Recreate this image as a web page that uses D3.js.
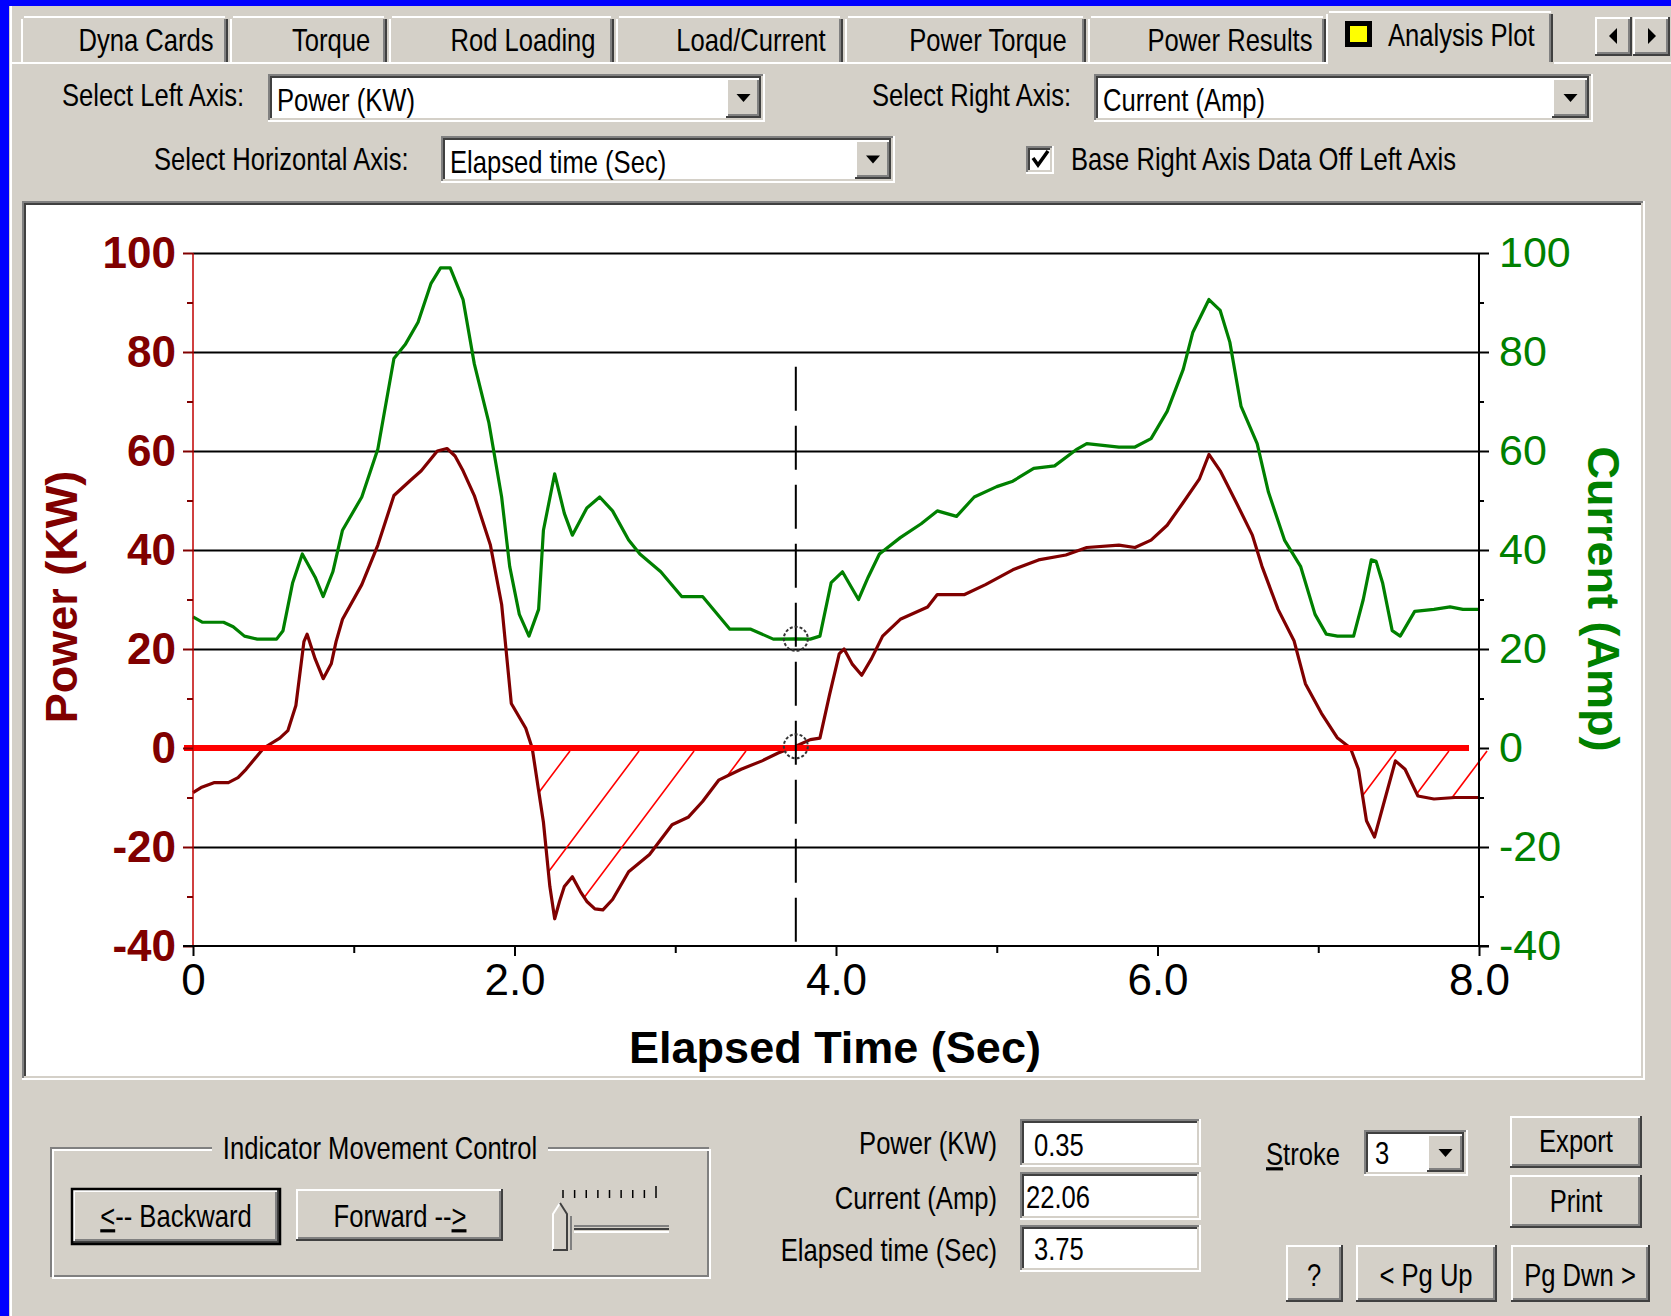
<!DOCTYPE html>
<html>
<head>
<meta charset="utf-8">
<title>Analysis Plot</title>
<script src="https://cdn.jsdelivr.net/npm/d3@7"></script>
<style>
  html, body { margin: 0; padding: 0; background: #0000ff; }
  svg { display: block; }
</style>
</head>
<body>
<svg id="screen" width="1671" height="1316"></svg>
<script>
// ---------------- data ----------------
const powerTime = [0, 0.05, 0.13, 0.22, 0.28, 0.33, 0.44, 0.54, 0.59, 0.64, 0.69, 0.71, 0.76, 0.81, 0.86, 0.89, 0.93,
  1.05, 1.15, 1.25, 1.35, 1.42, 1.52, 1.58, 1.63, 1.68, 1.75, 1.85, 1.92, 1.98, 2.07, 2.11, 2.15, 2.18, 2.22, 2.25,
  2.28, 2.31, 2.36, 2.41, 2.45, 2.5, 2.55, 2.61, 2.71, 2.84, 2.98, 3.08, 3.17, 3.27, 3.41, 3.54, 3.64, 3.75, 3.84,
  3.9, 3.96, 4.02, 4.05, 4.1, 4.16, 4.22, 4.29, 4.4, 4.57, 4.63, 4.8, 4.93, 5.1, 5.26, 5.43, 5.56, 5.76, 5.86, 5.96,
  6.06, 6.16, 6.26, 6.32, 6.39, 6.49, 6.59, 6.65, 6.75, 6.85, 6.92, 7.02, 7.12, 7.2, 7.25, 7.3, 7.35, 7.42, 7.48,
  7.54, 7.62, 7.72, 7.85, 8.0];
const powerKW = [-9, -8, -7, -7, -6, -4.3, 0, 2, 3.5, 8.6, 21.5, 23, 18, 14, 17, 21.5, 26,
  33, 41, 51, 54, 56, 60, 60.5, 59, 56, 51, 41, 29, 9, 4, 0, -8.6, -15, -28, -34.5,
  -31, -28, -26, -29, -31, -32.5, -32.7, -30.6, -25, -21.5, -15.5, -14, -10.8, -6.5, -4.3, -2.6, -1, 0.35, 1.7,
  2, 10.8, 19, 20, 17, 14.7, 18, 22.6, 26, 28.5, 31, 31, 33, 36, 38, 39, 40.5, 41, 40.5, 42,
  45, 49.6, 54.3, 59.3, 56, 49.6, 43, 36.7, 28, 21.6, 13, 7, 2, 0, -4.3, -14.7, -18, -9.7, -2.6,
  -4.3, -9.7, -10.3, -10, -10];

const currentTime = [0, 0.06, 0.19, 0.25, 0.32, 0.4, 0.52, 0.56, 0.62, 0.68, 0.76, 0.81, 0.87, 0.93, 1.05, 1.15,
  1.25, 1.32, 1.4, 1.48, 1.54, 1.6, 1.68, 1.75, 1.84, 1.92, 1.97, 2.03, 2.09, 2.15, 2.18, 2.25, 2.31, 2.36, 2.45,
  2.53, 2.61, 2.71, 2.78, 2.91, 3.04, 3.17, 3.34, 3.47, 3.61, 3.75, 3.84, 3.9, 3.97, 4.04, 4.14, 4.2, 4.27, 4.4,
  4.53, 4.63, 4.75, 4.86, 5.0, 5.1, 5.23, 5.36, 5.5, 5.56, 5.76, 5.86, 5.96, 6.06, 6.16, 6.22, 6.32, 6.39, 6.45,
  6.52, 6.62, 6.69, 6.79, 6.89, 6.98, 7.05, 7.12, 7.22, 7.28, 7.33, 7.36, 7.4, 7.46, 7.51, 7.6, 7.72, 7.82, 7.9, 8.0];
const currentAmp = [26.5, 25.4, 25.4, 24.5, 22.6, 22, 22, 23.7, 33.4, 39.2, 34.5, 30.6, 35.6, 44, 50.7, 60.4,
  78.7, 81.5, 86, 93.8, 97, 97, 90.6, 77.6, 65.8, 50.7, 36.7, 27, 22.6, 28, 44, 55.4, 47.4, 43, 48.5,
  50.7, 47.9, 42, 39.2, 35.6, 30.6, 30.6, 24, 24, 22, 22.06, 22, 22.6, 33.4, 35.6, 30, 34.5, 39.2, 42.5,
  45.3, 47.9, 46.8, 50.7, 52.8, 53.9, 56.5, 57, 60.4, 61.5, 60.8, 60.8, 62.5, 68, 76.5, 84, 90.6, 88.4, 82,
  69, 61.5, 51.7, 42, 36.7, 27, 23, 22.6, 22.6, 30, 38, 37.7, 33.4, 23.7, 22.6, 27.6, 28, 28.5, 28, 28];

// indicator position and readouts
const cursorTime = 3.75;
const cursorPower = 0.35;
const cursorCurrent = 22.06;

// start times (on the zero line) of the hatching over negative power
const hatchTimes = [2.345, 2.775, 3.117, 3.44, 7.484, 7.813, 8.05];

const leftTicks = [-40, -20, 0, 20, 40, 60, 80, 100];
const rightTicks = [-40, -20, 0, 20, 40, 60, 80, 100];
const minorValueTicks = [-30, -10, 10, 30, 50, 70, 90];
const timeTicks = [0, 2, 4, 6, 8];
const timeTickLabels = ["0", "2.0", "4.0", "6.0", "8.0"];
const minorTimeTicks = [1, 3, 5, 7];

const tabNames = ["Dyna Cards", "Torque", "Rod Loading", "Load/Current", "Power Torque", "Power Results"];
const selectedTab = "Analysis Plot";

// ---------------- window chrome ----------------
const FACE = "#d4d0c8", HI = "#ffffff", SH = "#808080", DK = "#404040";
const UI_FONT = "'Liberation Sans', Arial, sans-serif";
const svg = d3.select("#screen");

svg.append("rect").attr("width", 1671).attr("height", 1316).attr("fill", "#0000ff");
svg.append("rect").attr("x", 9).attr("y", 6).attr("width", 1662).attr("height", 1310).attr("fill", FACE);

function seg(g, x1, y1, x2, y2, color, w) {
  g.append("line").attr("x1", x1).attr("y1", y1).attr("x2", x2).attr("y2", y2)
    .attr("stroke", color).attr("stroke-width", w || 2);
}
function box(g, x0, y0, w, h, fill) {
  return g.append("rect").attr("x", x0).attr("y", y0).attr("width", w).attr("height", h).attr("fill", fill);
}
function raised(g, x0, y0, w, h, isDefault) {
  box(g, x0, y0, w, h, FACE);
  seg(g, x0, y0 + 1, x0 + w, y0 + 1, HI);
  seg(g, x0 + 1, y0, x0 + 1, y0 + h, HI);
  seg(g, x0 + 2, y0 + h - 3, x0 + w - 2, y0 + h - 3, SH);
  seg(g, x0 + w - 3, y0 + 2, x0 + w - 3, y0 + h - 2, SH);
  seg(g, x0, y0 + h - 1, x0 + w, y0 + h - 1, DK);
  seg(g, x0 + w - 1, y0, x0 + w - 1, y0 + h, DK);
  if (isDefault) {
    g.append("rect").attr("x", x0 - 1).attr("y", y0 - 1).attr("width", w + 2).attr("height", h + 2)
      .attr("fill", "none").attr("stroke", "#000").attr("stroke-width", 2.5);
  }
}
function sunken(g, x0, y0, w, h, fill) {
  box(g, x0, y0, w, h, fill || "#fff");
  seg(g, x0, y0 + 1, x0 + w, y0 + 1, SH);
  seg(g, x0 + 1, y0, x0 + 1, y0 + h, SH);
  seg(g, x0 + 2, y0 + 3, x0 + w - 2, y0 + 3, DK);
  seg(g, x0 + 3, y0 + 2, x0 + 3, y0 + h - 2, DK);
  seg(g, x0, y0 + h - 1, x0 + w, y0 + h - 1, HI);
  seg(g, x0 + w - 1, y0, x0 + w - 1, y0 + h, HI);
  seg(g, x0 + 2, y0 + h - 3, x0 + w - 2, y0 + h - 3, FACE);
  seg(g, x0 + w - 3, y0 + 2, x0 + w - 3, y0 + h - 2, FACE);
}
function label(g, str, x0, y0, anchor, size, color) {
  return g.append("text")
    .attr("transform", `translate(${x0},${y0}) scale(0.8,1)`)
    .attr("text-anchor", anchor || "start")
    .attr("font-family", UI_FONT)
    .attr("font-size", size || 32)
    .attr("fill", color || "#000")
    .text(str);
}
function downArrow(g, cx, cy) {
  g.append("path").attr("d", `M${cx - 7},${cy - 4}L${cx + 7},${cy - 4}L${cx},${cy + 4}Z`).attr("fill", "#000");
}
function combo(g, x0, y0, w, h, text, textX, baseY, btnX) {
  sunken(g, x0, y0, w, h, "#fff");
  label(g, text, textX, baseY);
  raised(g, btnX, y0 + 4, x0 + w - 4 - btnX, h - 8);
  downArrow(g, (btnX + x0 + w - 4) / 2, y0 + h / 2);
}

const ui = svg.append("g");

// tab strip
seg(ui, 11, 6, 11, 1316, HI, 2);
seg(ui, 11, 63, 1326, 63, HI, 2);
seg(ui, 1553, 63, 1671, 63, HI, 2);
const tabEdges = [[21, 228], [230, 387], [389, 614], [616, 843], [845, 1086], [1088, 1326]];
const tabTextX = [146, 331, 523, 751, 988, 1230];
tabNames.forEach((name, i) => {
  const [a, b] = tabEdges[i];
  box(ui, a, 16, b - a, 46, FACE);
  seg(ui, a + 3, 17, b - 3, 17, HI);
  seg(ui, a + 1, 19, a + 1, 62, HI);
  seg(ui, b - 3, 19, b - 3, 62, SH);
  seg(ui, b - 1, 19, b - 1, 62, DK);
  label(ui, name, tabTextX[i], 51, "middle", 32);
});
// active tab
box(ui, 1326, 11, 228, 54, FACE);
seg(ui, 1329, 12, 1551, 12, HI);
seg(ui, 1327, 14, 1327, 64, HI);
seg(ui, 1550, 14, 1550, 62, SH);
seg(ui, 1552, 14, 1552, 62, DK);
box(ui, 1345, 21, 27, 26, "#000");
box(ui, 1350, 26, 17, 16, "#ffff00");
label(ui, selectedTab, 1388, 46, "start", 32);
// tab scroll arrows
raised(ui, 1595, 17, 37, 39);
raised(ui, 1633, 17, 37, 39);
ui.append("path").attr("d", "M1617,28L1617,44L1609,36Z").attr("fill", "#000");
ui.append("path").attr("d", "M1648,28L1648,44L1656,36Z").attr("fill", "#000");

// axis selectors
label(ui, "Select Left Axis:", 62, 106);
combo(ui, 268, 74, 497, 48, "Power (KW)", 277, 111, 726);
label(ui, "Select Right Axis:", 872, 106);
combo(ui, 1094, 74, 499, 48, "Current (Amp)", 1103, 111, 1552);
label(ui, "Select Horizontal Axis:", 154, 170);
combo(ui, 441, 136, 454, 47, "Elapsed time (Sec)", 450, 173, 855);
sunken(ui, 1026, 146, 28, 28, "#fff");
ui.append("path").attr("d", "M1033,158L1038,165L1048,151").attr("fill", "none")
  .attr("stroke", "#000").attr("stroke-width", 3.5);
label(ui, "Base Right Axis Data Off Left Axis", 1071, 170);

// chart frame
sunken(ui, 22, 201, 1623, 879, "#fff");
box(ui, 28, 207, 1612, 868, "#fff");

// ---------------- chart ----------------
const x = d3.scaleLinear().domain([0, 8]).range([193, 1479]);
const y = d3.scaleLinear().domain([-40, 100]).range([946, 253]);
const CHART_FONT = "'Liberation Sans', Arial, Helvetica, sans-serif";
const POWER_RED = "#800000", CURRENT_GREEN = "#008000";
const plot = svg.append("g");

const powerPts = d3.zip(powerTime, powerKW);
const currentPts = d3.zip(currentTime, currentAmp);

// horizontal grid
const gridValues = leftTicks.filter(v => v !== 0 && v !== -40);
plot.append("g").attr("transform", `translate(${x(0)},0)`)
  .call(d3.axisLeft(y).tickValues(gridValues).tickSize(-(x(8) - x(0))).tickFormat(""))
  .call(g => g.select(".domain").remove())
  .selectAll("line").attr("stroke", "#000").attr("stroke-width", 2);

// hatching over negative power
const bis = d3.bisector(d => d[0]).left;
function powerAt(t) {
  if (t <= powerPts[0][0]) return powerPts[0][1];
  if (t >= powerPts[powerPts.length - 1][0]) return powerPts[powerPts.length - 1][1];
  const i = bis(powerPts, t);
  const a = powerPts[i - 1], b = powerPts[i];
  return a[1] + (b[1] - a[1]) * (t - a[0]) / (b[0] - a[0]);
}
const hatchSlope = 0.75;
const hatch = hatchTimes.map(t0 => {
  const x0 = x(t0), y0 = y(0) + 3;
  let px = x0, py = y0;
  for (let d = 0; d < 500; d += 0.5) {
    px = x0 - hatchSlope * d;
    py = y0 + d;
    if (py >= y(powerAt(x.invert(px)))) break;
  }
  return [x0, y0, px, py];
});
plot.append("g").selectAll("line").data(hatch).join("line")
  .attr("x1", d => d[0]).attr("y1", d => d[1]).attr("x2", d => d[2]).attr("y2", d => d[3])
  .attr("stroke", "#ff0000").attr("stroke-width", 1.6);

// series
const line = d3.line().x(d => x(d[0])).y(d => y(d[1]));
plot.append("path").datum(currentPts).attr("d", line)
  .attr("fill", "none").attr("stroke", CURRENT_GREEN).attr("stroke-width", 3.2).attr("stroke-linejoin", "round");
plot.append("path").datum(powerPts).attr("d", line)
  .attr("fill", "none").attr("stroke", POWER_RED).attr("stroke-width", 3.2).attr("stroke-linejoin", "round");

// zero reference line
plot.append("line").attr("x1", x(0) - 9).attr("x2", x(8) - 10).attr("y1", y(0)).attr("y2", y(0))
  .attr("stroke", "#ff0000").attr("stroke-width", 6);

// indicator
plot.append("line").attr("x1", x(cursorTime)).attr("x2", x(cursorTime))
  .attr("y1", y(77)).attr("y2", y(-40))
  .attr("stroke", "#000").attr("stroke-width", 2).attr("stroke-dasharray", "44,15");
plot.append("g").selectAll("circle").data([cursorPower, cursorCurrent]).join("circle")
  .attr("cx", x(cursorTime)).attr("cy", d => y(d)).attr("r", 12)
  .attr("fill", "none").attr("stroke", "#333").attr("stroke-width", 2).attr("stroke-dasharray", "3,2");

// left axis
plot.append("line").attr("x1", x(0)).attr("x2", x(0)).attr("y1", y(100)).attr("y2", y(-40))
  .attr("stroke", "#c00000").attr("stroke-width", 1.5);
const gLeft = plot.append("g").attr("transform", `translate(${x(0)},0)`)
  .call(d3.axisLeft(y).tickValues(leftTicks).tickSize(10).tickPadding(7).tickFormat(d => String(d)));
gLeft.select(".domain").remove();
gLeft.selectAll("line").attr("stroke", POWER_RED).attr("stroke-width", 2);
gLeft.selectAll("text").attr("font-family", CHART_FONT).attr("font-size", 44)
  .attr("font-weight", "bold").attr("fill", POWER_RED);
const gLeftMinor = plot.append("g").attr("transform", `translate(${x(0)},0)`)
  .call(d3.axisLeft(y).tickValues(minorValueTicks).tickSize(6).tickFormat(""));
gLeftMinor.select(".domain").remove();
gLeftMinor.selectAll("line").attr("stroke", POWER_RED).attr("stroke-width", 2);

// right axis
plot.append("line").attr("x1", x(8)).attr("x2", x(8)).attr("y1", y(100)).attr("y2", y(-40))
  .attr("stroke", "#000").attr("stroke-width", 2);
const gRight = plot.append("g").attr("transform", `translate(${x(8)},0)`)
  .call(d3.axisRight(y).tickValues(rightTicks).tickSize(10).tickPadding(10).tickFormat(d => String(d)));
gRight.select(".domain").remove();
gRight.selectAll("line").attr("stroke", "#000").attr("stroke-width", 2);
gRight.selectAll("text").attr("font-family", CHART_FONT).attr("font-size", 43).attr("fill", CURRENT_GREEN);
const gRightMinor = plot.append("g").attr("transform", `translate(${x(8)},0)`)
  .call(d3.axisRight(y).tickValues(minorValueTicks).tickSize(5).tickFormat(""));
gRightMinor.select(".domain").remove();
gRightMinor.selectAll("line").attr("stroke", "#000").attr("stroke-width", 2);

// bottom axis
plot.append("line").attr("x1", x(0) - 10).attr("x2", x(8) + 10).attr("y1", y(-40)).attr("y2", y(-40))
  .attr("stroke", "#000").attr("stroke-width", 2);
const gBottom = plot.append("g").attr("transform", `translate(0,${y(-40)})`)
  .call(d3.axisBottom(x).tickValues(timeTicks).tickSize(10).tickPadding(8)
    .tickFormat((d, i) => timeTickLabels[i]));
gBottom.select(".domain").remove();
gBottom.selectAll("line").attr("stroke", "#000").attr("stroke-width", 2);
gBottom.selectAll("text").attr("font-family", CHART_FONT).attr("font-size", 44).attr("fill", "#000");
const gBottomMinor = plot.append("g").attr("transform", `translate(0,${y(-40)})`)
  .call(d3.axisBottom(x).tickValues(minorTimeTicks).tickSize(7).tickFormat(""));
gBottomMinor.select(".domain").remove();
gBottomMinor.selectAll("line").attr("stroke", "#000").attr("stroke-width", 2);

// axis titles
plot.append("text").attr("transform", "translate(77,597) rotate(-90)")
  .attr("text-anchor", "middle").attr("font-family", CHART_FONT).attr("font-size", 45)
  .attr("font-weight", "bold").attr("fill", POWER_RED).text("Power (KW)");
plot.append("text").attr("transform", "translate(1588,599) rotate(90)")
  .attr("text-anchor", "middle").attr("font-family", CHART_FONT).attr("font-size", 45)
  .attr("font-weight", "bold").attr("fill", CURRENT_GREEN).text("Current (Amp)");
plot.append("text").attr("x", 835).attr("y", 1063)
  .attr("text-anchor", "middle").attr("font-family", CHART_FONT).attr("font-size", 45)
  .attr("font-weight", "bold").attr("fill", "#000").text("Elapsed Time (Sec)");

// ---------------- lower controls ----------------
const low = svg.append("g");

// indicator movement group
low.append("rect").attr("x", 51).attr("y", 1148).attr("width", 657).attr("height", 128)
  .attr("fill", "none").attr("stroke", SH).attr("stroke-width", 2);
low.append("rect").attr("x", 53).attr("y", 1150).attr("width", 657).attr("height", 128)
  .attr("fill", "none").attr("stroke", HI).attr("stroke-width", 2);
box(low, 212, 1138, 336, 26, FACE);
label(low, "Indicator Movement Control", 380, 1159, "middle");

raised(low, 73, 1190, 206, 53, true);
const back = label(low, "", 176, 1227, "middle");
back.append("tspan").attr("text-decoration", "underline").text("<");
back.append("tspan").text("-- Backward");
raised(low, 296, 1189, 207, 52);
const fwd = label(low, "", 400, 1227, "middle");
fwd.append("tspan").text("Forward --");
fwd.append("tspan").attr("text-decoration", "underline").text(">");

// slider
const sliderTicks = d3.range(9);
const sx = d3.scaleLinear().domain([0, 8]).range([563, 656]);
low.append("g").selectAll("line").data(sliderTicks).join("line")
  .attr("x1", d => sx(d)).attr("x2", d => sx(d))
  .attr("y1", d => d === 8 ? 1186 : 1190).attr("y2", 1198)
  .attr("stroke", "#000").attr("stroke-width", 1.5);
seg(low, 574, 1226, 669, 1226, SH, 2);
seg(low, 574, 1229, 669, 1229, DK, 2);
seg(low, 574, 1232, 669, 1232, HI, 2);
low.append("path").attr("d", "M553,1250L553,1214L560,1203L567,1214L567,1250Z").attr("fill", FACE);
low.append("path").attr("d", "M553,1250L553,1214L560,1203").attr("fill", "none").attr("stroke", HI).attr("stroke-width", 2);
low.append("path").attr("d", "M560,1203L567,1214L567,1250L553,1250").attr("fill", "none").attr("stroke", DK).attr("stroke-width", 2);
seg(low, 571, 1216, 571, 1250, SH, 2);

// readouts
label(low, "Power (KW)", 997, 1154, "end");
label(low, "Current (Amp)", 997, 1209, "end");
label(low, "Elapsed time (Sec)", 997, 1261, "end");
sunken(low, 1020, 1119, 181, 48, "#fff");
sunken(low, 1020, 1172, 181, 48, "#fff");
sunken(low, 1020, 1225, 181, 47, "#fff");
label(low, d3.format(".2f")(cursorPower), 1034, 1156);
label(low, d3.format(".2f")(cursorCurrent), 1026, 1208);
label(low, d3.format(".2f")(cursorTime), 1034, 1260);

// stroke selector
const strokeLbl = label(low, "", 1266, 1165);
strokeLbl.append("tspan").attr("text-decoration", "underline").text("S");
strokeLbl.append("tspan").text("troke");
combo(low, 1364, 1130, 104, 46, "3", 1375, 1164, 1427);

// buttons
raised(low, 1510, 1116, 132, 52);
label(low, "Export", 1576, 1152, "middle");
raised(low, 1510, 1175, 132, 53);
label(low, "Print", 1576, 1212, "middle");
raised(low, 1286, 1245, 57, 57);
label(low, "?", 1314, 1286, "middle");
raised(low, 1356, 1245, 141, 57);
label(low, "< Pg Up", 1426, 1286, "middle");
raised(low, 1511, 1245, 139, 57);
label(low, "Pg Dwn >", 1580, 1286, "middle");
</script>
</body>
</html>
